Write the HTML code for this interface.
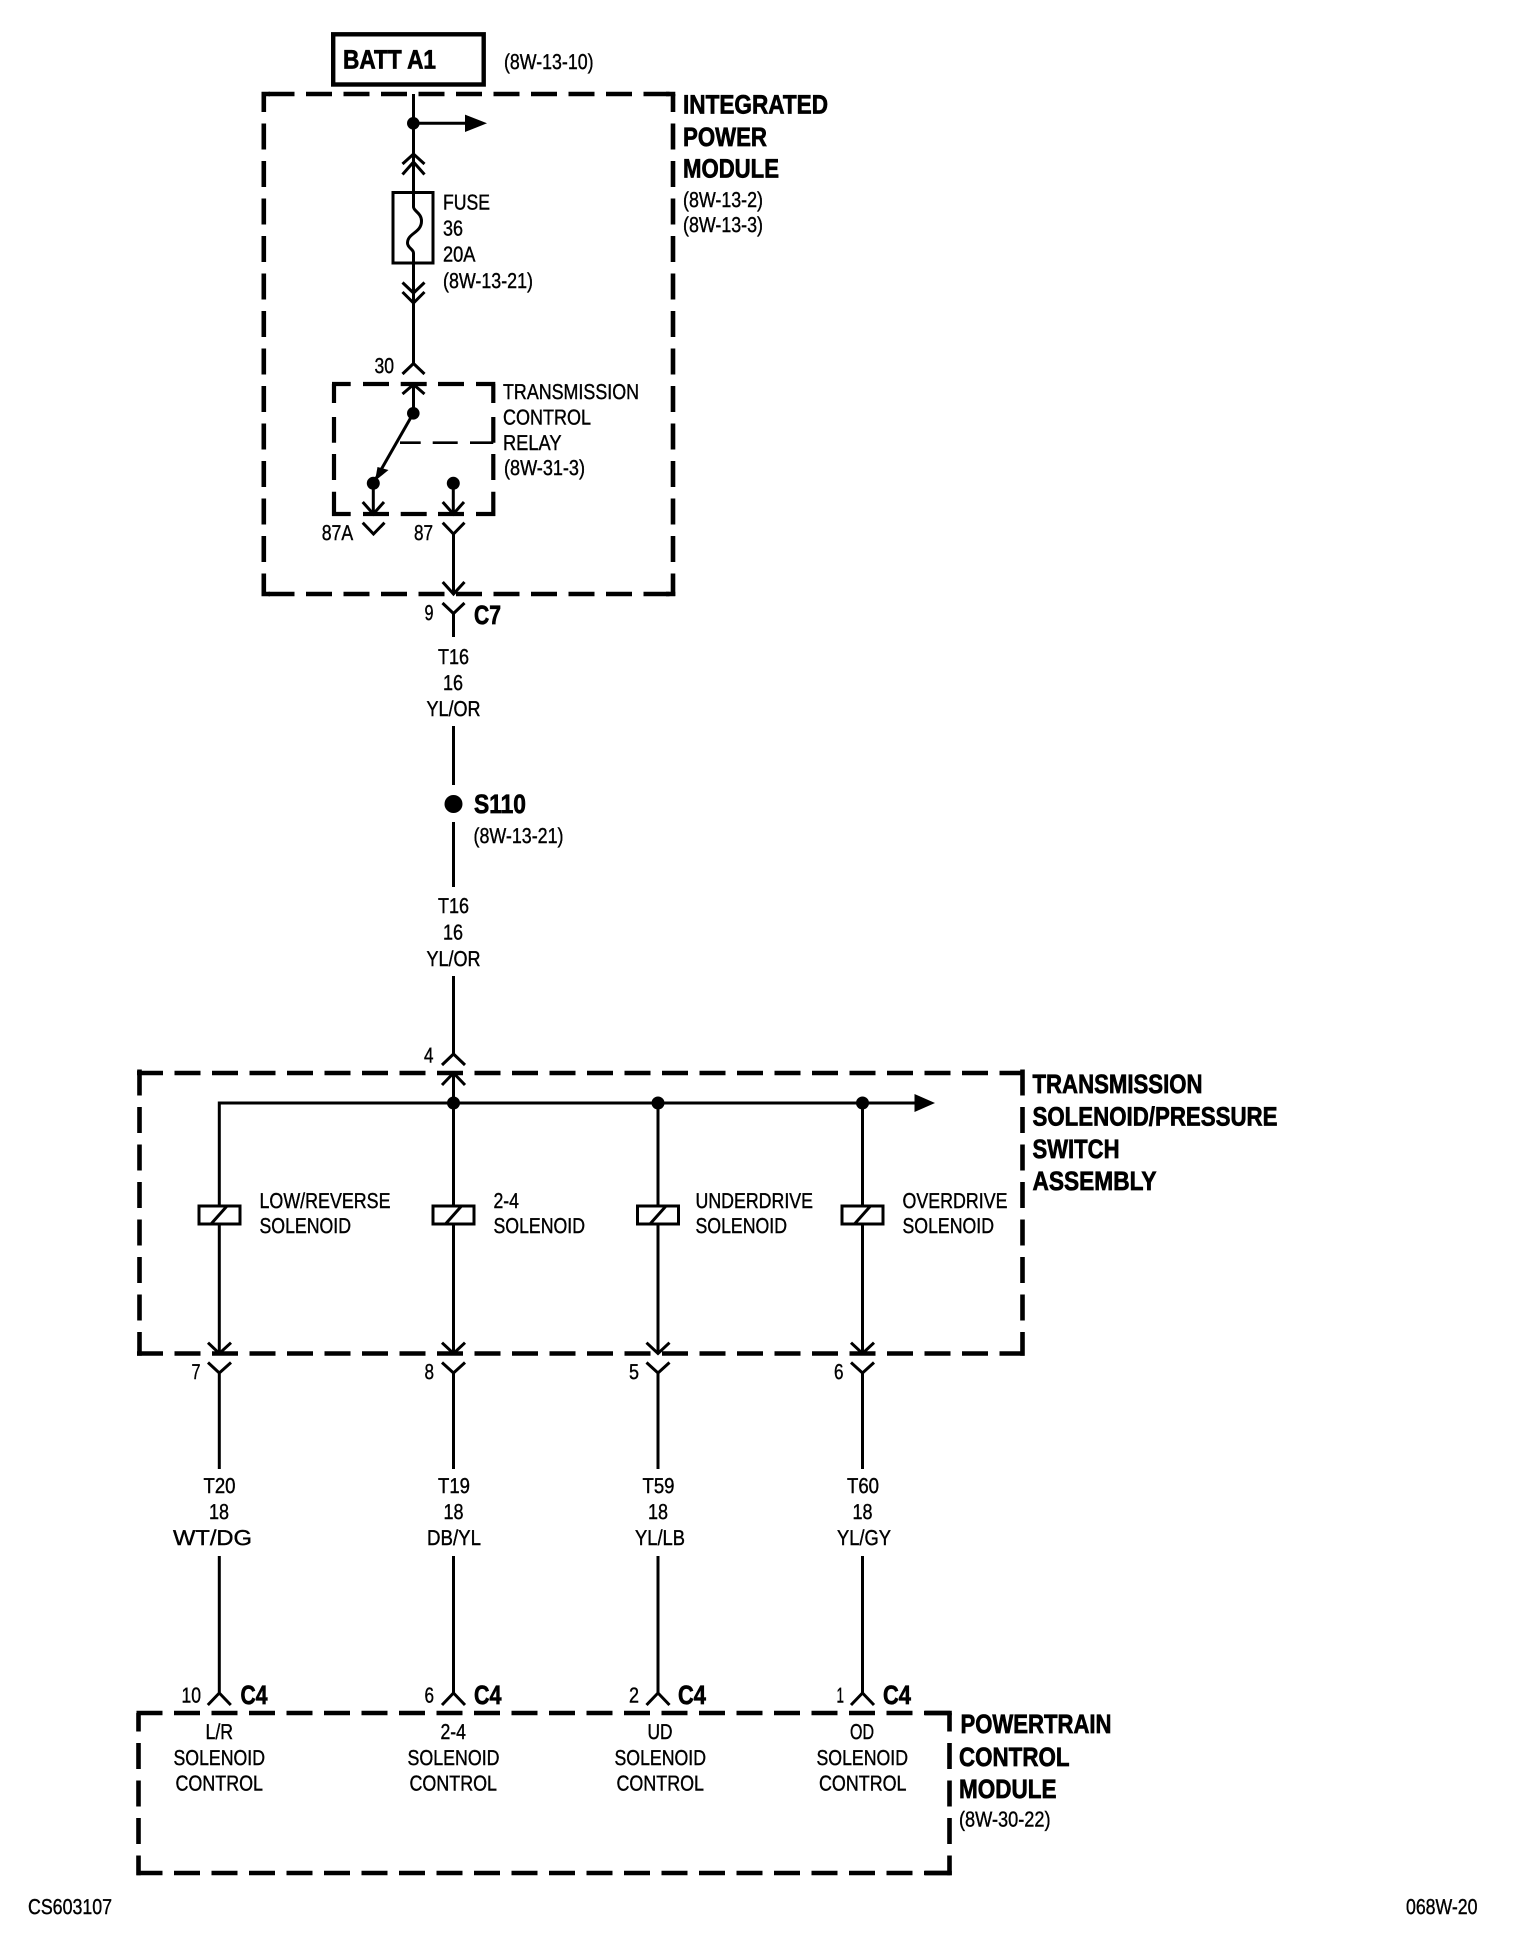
<!DOCTYPE html>
<html><head><meta charset="utf-8"><title>Diagram</title>
<style>
html,body{margin:0;padding:0;background:#fff;width:1520px;height:1944px;overflow:hidden}
svg{display:block}
text{font-family:"Liberation Sans",sans-serif;font-size:21.5px;fill:#000;stroke:#000;stroke-width:.4;}
text.b{font-weight:bold;font-size:26.5px;stroke-width:.7}
.w{fill:none;stroke:#000;stroke-width:3}
.d{fill:none;stroke:#000;stroke-width:4.6;stroke-dasharray:26 11.5}
.r{fill:none;stroke:#000;stroke-width:4.2}
</style></head><body>
<svg xmlns="http://www.w3.org/2000/svg" width="1520" height="1944" viewBox="0 0 1520 1944" text-rendering="geometricPrecision">
<rect width="1520" height="1944" fill="#fff"/>

<!-- BATT -->
<rect x="333.200" y="34.300" width="150.500" height="50.200" fill="none" stroke="#000" stroke-width="4.400"/>
<text class="b" x="343" y="68.300" textLength="93" lengthAdjust="spacingAndGlyphs">BATT A1</text>
<text x="504" y="69" textLength="89.500" lengthAdjust="spacingAndGlyphs">(8W-13-10)</text>

<!-- IPM box -->
<path class="d" d="M268.500 94H673"/>
<path class="d" d="M268.500 594H673"/>
<path class="d" style="stroke-dashoffset:8" d="M263.800 94V596"/>
<path class="d" style="stroke-dashoffset:8" d="M673 94V596"/>
<path class="d" style="stroke-dasharray:none" d="M261.500 94H270M261.500 594H270M675.300 94H666M675.300 594H666"/>
<text class="b" x="683" y="113.500" textLength="145" lengthAdjust="spacingAndGlyphs">INTEGRATED</text>
<text class="b" x="683" y="146" textLength="84" lengthAdjust="spacingAndGlyphs">POWER</text>
<text class="b" x="683" y="177.500" textLength="96" lengthAdjust="spacingAndGlyphs">MODULE</text>
<text x="683" y="207" textLength="80" lengthAdjust="spacingAndGlyphs">(8W-13-2)</text>
<text x="683" y="232" textLength="80" lengthAdjust="spacingAndGlyphs">(8W-13-3)</text>

<!-- feed, fuse -->
<path class="w" d="M413.500 94V207c0 4 8 6 8 14c0 12-14 12-14 22c0 5 6 6 6 10V363.500"/>
<circle cx="413.300" cy="123.300" r="6.300"/>
<path class="w" d="M413.500 123.300H470"/>
<path d="M465 114.600L487 123.300L465 132Z"/>
<path class="w" d="M402.500 164L413.500 154L424.500 164M402.500 174.500L413.500 162L424.500 174.500"/>
<rect x="393" y="192.500" width="40" height="70.500" fill="none" stroke="#000" stroke-width="3"/>
<path class="w" d="M402.500 282.500L413.500 293L424.500 282.500M402.500 292L413.500 303L424.500 292"/>
<text x="443" y="209.500" textLength="47" lengthAdjust="spacingAndGlyphs">FUSE</text>
<text x="443" y="235.500" textLength="20" lengthAdjust="spacingAndGlyphs">36</text>
<text x="443" y="261.500" textLength="32.500" lengthAdjust="spacingAndGlyphs">20A</text>
<text x="443" y="288" textLength="90" lengthAdjust="spacingAndGlyphs">(8W-13-21)</text>

<!-- connector 30 + relay -->
<text x="374.500" y="373" textLength="19.500" lengthAdjust="spacingAndGlyphs">30</text>
<path class="w" d="M402.500 374L413.500 363.500L424.500 374"/>
<path class="w" d="M402.500 394L413.500 384.500L424.500 394M413.500 384.500V413"/>
<path class="r" d="M332 384H350.700M363 384H389M400.700 384H426.700M438 384H464M476 384H495.300
M332 514H350.700M363 514H389M400.700 514H426.700M438 514H464M476 514H495.300
M334 384V403M334 417V442.700M334 454V480M334 491.700V516
M493.300 384V403M493.300 417V442.700M493.300 454V480M493.300 491.700V516"/>
<path fill="none" stroke="#000" stroke-width="2.600" d="M493.300 442.700H470M457.700 442.700H432.700M420.700 442.700H400"/>
<circle cx="413.300" cy="413.300" r="6.300"/>
<circle cx="373.300" cy="483.300" r="6.500"/>
<circle cx="453.300" cy="483.300" r="6.500"/>
<path class="w" d="M413.300 413.300L373.300 483.300"/>
<path d="M375 481L377.500 467L388.500 470Z"/>
<path class="w" d="M373.300 483.300V514M362.700 502L373.300 514L384 502"/>
<path class="w" d="M453.300 483.300V514M442.700 502L453.300 514L464 502"/>
<path class="w" d="M362.700 522.700L373.500 534L384.500 522.700"/>
<path class="w" d="M442.700 522.700L453.500 534L464.500 522.700M453.500 534V594M442.700 582L453.500 594L464.500 582"/>
<text x="503" y="399" textLength="136" lengthAdjust="spacingAndGlyphs">TRANSMISSION</text>
<text x="503" y="424.500" textLength="88" lengthAdjust="spacingAndGlyphs">CONTROL</text>
<text x="503" y="450" textLength="58.500" lengthAdjust="spacingAndGlyphs">RELAY</text>
<text x="504" y="475" textLength="81" lengthAdjust="spacingAndGlyphs">(8W-31-3)</text>
<text x="321.700" y="540" textLength="31.500" lengthAdjust="spacingAndGlyphs">87A</text>
<text x="414" y="540" textLength="19" lengthAdjust="spacingAndGlyphs">87</text>

<!-- C7 -->
<text x="424.500" y="620" textLength="9" lengthAdjust="spacingAndGlyphs">9</text>
<path class="w" d="M442.500 603L453.500 613.500L464.500 603M453.500 613.500V637"/>
<text class="b" x="474" y="624" textLength="27" lengthAdjust="spacingAndGlyphs">C7</text>
<text x="438" y="664" textLength="31" lengthAdjust="spacingAndGlyphs">T16</text>
<text x="443" y="690" textLength="20" lengthAdjust="spacingAndGlyphs">16</text>
<text x="426.500" y="716" textLength="54" lengthAdjust="spacingAndGlyphs">YL/OR</text>
<path class="w" d="M453.500 726V785M453.500 822V887"/>
<circle cx="453.500" cy="804" r="9"/>
<text class="b" x="474" y="813" textLength="52" lengthAdjust="spacingAndGlyphs">S110</text>
<text x="473.500" y="843" textLength="90" lengthAdjust="spacingAndGlyphs">(8W-13-21)</text>
<text x="438" y="913" textLength="31" lengthAdjust="spacingAndGlyphs">T16</text>
<text x="443" y="939.500" textLength="20" lengthAdjust="spacingAndGlyphs">16</text>
<text x="426.500" y="966" textLength="54" lengthAdjust="spacingAndGlyphs">YL/OR</text>
<path class="w" d="M453.500 976V1054"/>
<text x="424" y="1062.500" textLength="9.500" lengthAdjust="spacingAndGlyphs">4</text>
<path class="w" d="M442 1065L453.500 1054L465 1065"/>

<!-- Transmission box -->
<path class="d" d="M137 1073H1024.500"/>
<path class="d" d="M137 1353.500H1024.500"/>
<path class="d" d="M139.500 1069.500V1355.800"/>
<path class="d" d="M1022.500 1069.500V1355.800"/>
<path class="w" d="M442 1085L453.500 1073L465 1085M453.500 1073V1103"/>
<path class="w" d="M219.300 1353V1103H925"/>
<path d="M914.500 1094L935 1103L914.500 1112Z"/>
<circle cx="453.500" cy="1103" r="6.500"/><circle cx="658" cy="1103" r="6.500"/><circle cx="862.500" cy="1103" r="6.500"/>
<path class="w" d="M453.500 1103V1353M658 1103V1353M862.500 1103V1353"/>
<g fill="#fff" stroke="#000" stroke-width="3">
<rect x="199" y="1206" width="41" height="18"/><path d="M211 1224L227 1206"/>
<rect x="433" y="1206" width="41" height="18"/><path d="M445.500 1224L461.500 1206"/>
<rect x="637.500" y="1206" width="41" height="18"/><path d="M650 1224L666 1206"/>
<rect x="842" y="1206" width="41" height="18"/><path d="M854.500 1224L870.500 1206"/>
</g>
<text x="259.500" y="1208" textLength="131" lengthAdjust="spacingAndGlyphs">LOW/REVERSE</text>
<text x="259.500" y="1233" textLength="91.500" lengthAdjust="spacingAndGlyphs">SOLENOID</text>
<text x="493.500" y="1208" textLength="25.500" lengthAdjust="spacingAndGlyphs">2-4</text>
<text x="493.500" y="1233" textLength="91.500" lengthAdjust="spacingAndGlyphs">SOLENOID</text>
<text x="695.500" y="1208" textLength="117.500" lengthAdjust="spacingAndGlyphs">UNDERDRIVE</text>
<text x="695.500" y="1233" textLength="91.500" lengthAdjust="spacingAndGlyphs">SOLENOID</text>
<text x="902.500" y="1208" textLength="105" lengthAdjust="spacingAndGlyphs">OVERDRIVE</text>
<text x="902.500" y="1233" textLength="91.500" lengthAdjust="spacingAndGlyphs">SOLENOID</text>
<text class="b" x="1032.500" y="1093" textLength="170" lengthAdjust="spacingAndGlyphs">TRANSMISSION</text>
<text class="b" x="1032.500" y="1125.500" textLength="245" lengthAdjust="spacingAndGlyphs">SOLENOID/PRESSURE</text>
<text class="b" x="1032.500" y="1158" textLength="87" lengthAdjust="spacingAndGlyphs">SWITCH</text>
<text class="b" x="1032.500" y="1190" textLength="124" lengthAdjust="spacingAndGlyphs">ASSEMBLY</text>

<!-- arrows at box bottom and connectors -->
<path class="w" d="M208 1342.700L219.300 1353.500L231 1342.700M208 1362.500L219.300 1373L231 1362.500M219.300 1373V1469"/>
<path class="w" d="M442 1342.700L453.500 1353.500L465 1342.700M442 1362.500L453.500 1373L465 1362.500M453.500 1373V1469"/>
<path class="w" d="M646.500 1342.700L658 1353.500L669.500 1342.700M646.500 1362.500L658 1373L669.500 1362.500M658 1373V1469"/>
<path class="w" d="M851 1342.700L862.500 1353.500L874 1342.700M851 1362.500L862.500 1373L874 1362.500M862.500 1373V1469"/>
<text x="191.500" y="1379" textLength="9" lengthAdjust="spacingAndGlyphs">7</text>
<text x="424.500" y="1379" textLength="9.500" lengthAdjust="spacingAndGlyphs">8</text>
<text x="629" y="1379" textLength="10" lengthAdjust="spacingAndGlyphs">5</text>
<text x="834" y="1379" textLength="9.500" lengthAdjust="spacingAndGlyphs">6</text>

<text x="203.500" y="1493" textLength="32" lengthAdjust="spacingAndGlyphs">T20</text>
<text x="209" y="1519" textLength="20" lengthAdjust="spacingAndGlyphs">18</text>
<text x="173" y="1545" textLength="79" lengthAdjust="spacingAndGlyphs">WT/DG</text>
<text x="438" y="1493" textLength="32" lengthAdjust="spacingAndGlyphs">T19</text>
<text x="443.500" y="1519" textLength="20" lengthAdjust="spacingAndGlyphs">18</text>
<text x="427" y="1545" textLength="54" lengthAdjust="spacingAndGlyphs">DB/YL</text>
<text x="642.500" y="1493" textLength="32" lengthAdjust="spacingAndGlyphs">T59</text>
<text x="648" y="1519" textLength="20" lengthAdjust="spacingAndGlyphs">18</text>
<text x="635" y="1545" textLength="50" lengthAdjust="spacingAndGlyphs">YL/LB</text>
<text x="847" y="1493" textLength="32" lengthAdjust="spacingAndGlyphs">T60</text>
<text x="852.500" y="1519" textLength="20" lengthAdjust="spacingAndGlyphs">18</text>
<text x="837" y="1545" textLength="54" lengthAdjust="spacingAndGlyphs">YL/GY</text>

<path class="w" d="M219.300 1556V1693M207.800 1705L219.300 1693L230.800 1705"/>
<path class="w" d="M453.500 1556V1693M442 1705L453.500 1693L465 1705"/>
<path class="w" d="M658 1556V1693M646.500 1705L658 1693L669.500 1705"/>
<path class="w" d="M862.500 1556V1693M851 1705L862.500 1693L874 1705"/>
<text x="181.500" y="1702.500" textLength="19.500" lengthAdjust="spacingAndGlyphs">10</text>
<text x="424.500" y="1702.500" textLength="9.500" lengthAdjust="spacingAndGlyphs">6</text>
<text x="629" y="1702.500" textLength="10" lengthAdjust="spacingAndGlyphs">2</text>
<text x="836.500" y="1702.500" textLength="7.500" lengthAdjust="spacingAndGlyphs">1</text>
<text class="b" x="240.500" y="1704" textLength="27" lengthAdjust="spacingAndGlyphs">C4</text>
<text class="b" x="474" y="1704" textLength="27.500" lengthAdjust="spacingAndGlyphs">C4</text>
<text class="b" x="678" y="1704" textLength="28" lengthAdjust="spacingAndGlyphs">C4</text>
<text class="b" x="883" y="1704" textLength="28" lengthAdjust="spacingAndGlyphs">C4</text>

<!-- PCM box -->
<path class="d" d="M136.500 1713H951"/>
<path class="d" d="M136.500 1873H951"/>
<path class="d" style="stroke-dashoffset:7.500" d="M138.500 1713V1875.300"/>
<path class="d" style="stroke-dashoffset:7.500" d="M949.500 1713V1875.300"/>
<path class="d" style="stroke-dasharray:none" d="M925 1713H951.800M925 1873H951.800"/>
<text x="205.500" y="1739" textLength="27.500" lengthAdjust="spacingAndGlyphs">L/R</text>
<text x="173.500" y="1765" textLength="91.500" lengthAdjust="spacingAndGlyphs">SOLENOID</text>
<text x="175.500" y="1790.500" textLength="87.500" lengthAdjust="spacingAndGlyphs">CONTROL</text>
<text x="440.500" y="1739" textLength="25.500" lengthAdjust="spacingAndGlyphs">2-4</text>
<text x="407.500" y="1765" textLength="92" lengthAdjust="spacingAndGlyphs">SOLENOID</text>
<text x="409.500" y="1790.500" textLength="87.500" lengthAdjust="spacingAndGlyphs">CONTROL</text>
<text x="647.500" y="1739" textLength="25" lengthAdjust="spacingAndGlyphs">UD</text>
<text x="614.500" y="1765" textLength="91.500" lengthAdjust="spacingAndGlyphs">SOLENOID</text>
<text x="616.500" y="1790.500" textLength="87.500" lengthAdjust="spacingAndGlyphs">CONTROL</text>
<text x="850" y="1739" textLength="24" lengthAdjust="spacingAndGlyphs">OD</text>
<text x="816.500" y="1765" textLength="91.500" lengthAdjust="spacingAndGlyphs">SOLENOID</text>
<text x="819" y="1790.500" textLength="87.500" lengthAdjust="spacingAndGlyphs">CONTROL</text>
<text class="b" x="960.500" y="1733" textLength="151" lengthAdjust="spacingAndGlyphs">POWERTRAIN</text>
<text class="b" x="959" y="1766" textLength="110.500" lengthAdjust="spacingAndGlyphs">CONTROL</text>
<text class="b" x="959" y="1798" textLength="97.500" lengthAdjust="spacingAndGlyphs">MODULE</text>
<text x="959" y="1826.500" textLength="91.500" lengthAdjust="spacingAndGlyphs">(8W-30-22)</text>

<text x="28" y="1914" textLength="84" lengthAdjust="spacingAndGlyphs">CS603107</text>
<text x="1406" y="1914" textLength="71.500" lengthAdjust="spacingAndGlyphs">068W-20</text>
</svg>
</body></html>
